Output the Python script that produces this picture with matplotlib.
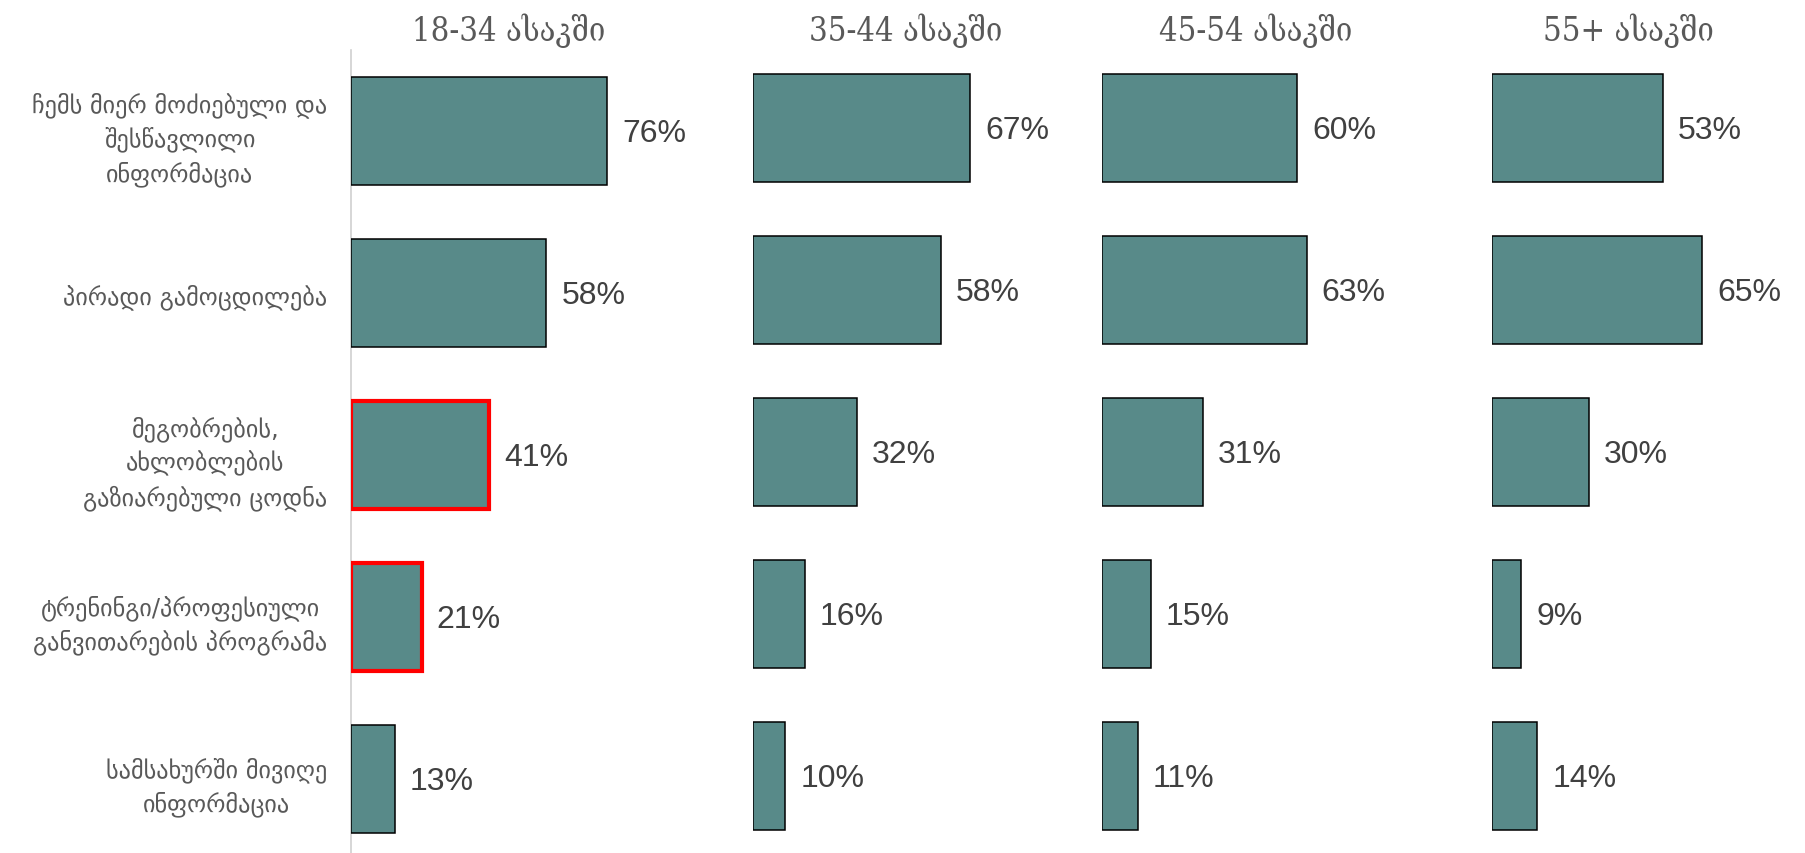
import matplotlib.pyplot as plt

# categories and values (percent) per age group
categories = [
    "ჩემს მიერ მოძიებული და\nშესწავლილი\nინფორმაცია",
    "პირადი გამოცდილება",
    "მეგობრების,\nახლობლების\nგაზიარებული ცოდნა",
    "ტრენინგი/პროფესიული\nგანვითარების პროგრამა",
    "სამსახურში მივიღე\nინფორმაცია",
]
groups = ["18-34 ასაკში", "35-44 ასაკში", "45-54 ასაკში", "55+ ასაკში"]
age_18_34 = [76, 58, 41, 21, 13]
age_35_44 = [67, 58, 32, 16, 10]
age_45_54 = [60, 63, 31, 15, 11]
age_55_plus = [53, 65, 30, 9, 14]
highlight = [False, False, True, True, False]  # red outline in first panel

series = [age_18_34, age_35_44, age_45_54, age_55_plus]

W, H = 1806, 854
fig = plt.figure(figsize=(W / 100, H / 100), dpi=100)

bar_color = "#588a89"
# panel layout in pixels: left edge, px per percent, vertical shift
lefts = [351, 753, 1102, 1492]
scales = [3.37, 3.24, 3.25, 3.23]
shifts = [0, 3, 3, 3]
title_x = [509, 906, 1256, 1628]
row_px = 162
xmax = 90

for i, vals in enumerate(series):
    top = 51 - shifts[i]
    ax = fig.add_axes([lefts[i] / W, (H - top - 5 * row_px) / H,
                       xmax * scales[i] / W, 5 * row_px / H])
    ypos = list(range(len(categories)))
    for j, v in enumerate(vals):
        red = i == 0 and highlight[j]
        ax.barh(j, v, height=0.67, color=bar_color,
                edgecolor="#ff0000" if red else "black",
                linewidth=3.0 if red else 1.1, zorder=3)
        ax.text(v + 15 / scales[i], j + 0.015, f"{v}%", va="center", ha="left",
                fontsize=23, color="#404040", family="Liberation Sans")
    ax.set_xlim(0, xmax)
    ax.set_ylim(4.5, -0.5)
    ax.set_xticks([])
    for s in ["top", "right", "bottom"]:
        ax.spines[s].set_visible(False)
    if i == 0:
        ax.spines["left"].set_color("#d0d0d0")
        ax.spines["left"].set_linewidth(1.2)
        ax.set_yticks(ypos)
        ax.set_yticklabels(categories, fontsize=17.5, color="#595959",
                           multialignment="center", linespacing=1.45)
        ax.tick_params(axis="y", length=0, pad=17)
    else:
        ax.spines["left"].set_visible(False)
        ax.set_yticks([])
    fig.text(title_x[i] / W, (H - 31) / H, groups[i], ha="center", va="center",
             fontsize=23.5, color="#595959",
             family=["DejaVu Serif", "DejaVu Sans"], fontstretch="condensed")

fig.savefig("out.png", dpi=100, facecolor="white")
